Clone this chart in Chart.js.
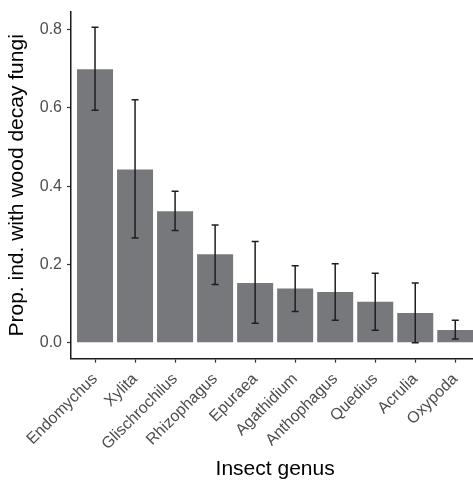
<!DOCTYPE html>
<html>
<head>
<meta charset="utf-8">
<script src="https://cdn.jsdelivr.net/npm/chart.js@4"></script>
<style>
html,body{margin:0;padding:0;overflow:hidden;background:#fff;}
#wrap{width:482px;height:482px;}
</style>
</head>
<body>
<div id="wrap"><canvas id="c" width="482" height="482"></canvas></div>
<script>
const genera = ["Endomychus","Xylita","Glischrochilus","Rhizophagus","Epuraea","Agathidium","Anthophagus","Quedius","Acrulia","Oxypoda"];
const proportion = [0.699,0.443,0.336,0.226,0.153,0.139,0.130,0.105,0.076,0.033];
const ciLower = [0.594,0.268,0.287,0.149,0.050,0.080,0.058,0.032,0.000,0.010];
const ciUpper = [0.806,0.621,0.387,0.301,0.259,0.197,0.202,0.178,0.153,0.058];
const yTicks = [0,0.2,0.4,0.6,0.8];

const FONT = "'Liberation Sans', Arial, Helvetica, sans-serif";

const errorBars = {
  id: 'errorBars',
  afterDatasetsDraw(chart) {
    const ctx = chart.ctx;
    const xs = chart.scales.x, ys = chart.scales.y;
    ctx.save();
    ctx.strokeStyle = '#1f1f1f';
    ctx.lineWidth = 1.5;
    const cap = 3.5;
    for (let i = 0; i < genera.length; i++) {
      const x = xs.getPixelForValue(i);
      const y1 = ys.getPixelForValue(ciLower[i]);
      const y2 = ys.getPixelForValue(ciUpper[i]);
      ctx.beginPath();
      ctx.moveTo(x, y1); ctx.lineTo(x, y2);
      ctx.moveTo(x - cap, y1); ctx.lineTo(x + cap, y1);
      ctx.moveTo(x - cap, y2); ctx.lineTo(x + cap, y2);
      ctx.stroke();
    }
    ctx.restore();
  }
};

new Chart(document.getElementById('c'), {
  type: 'bar',
  data: {
    datasets: [{
      data: genera.map((g, i) => ({x: i, y: proportion[i]})),
      backgroundColor: '#77787b',
      borderWidth: 0,
      barPercentage: 0.9,
      categoryPercentage: 1.0
    }]
  },
  options: {
    responsive: false,
    animation: false,
    devicePixelRatio: 1,
    layout: {padding: {left: 0, right: 2.7, top: 12, bottom: 0}},
    plugins: {legend: {display: false}, tooltip: {enabled: false}},
    scales: {
      x: {
        type: 'linear',
        offset: false,
        min: -0.6,
        max: 9.6,
        afterBuildTicks(scale) { scale.ticks = genera.map((g, i) => ({value: i})); },
        afterFit(scale) { scale.height = 482 - 358.7; scale.paddingLeft = 0; scale.paddingRight = 0; },
        grid: {offset: false, drawOnChartArea: false, drawTicks: true, tickLength: 4, tickColor: '#333', tickWidth: 1.2},
        border: {display: true, color: '#1a1a1a', width: 1.5},
        ticks: {
          autoSkip: false,
          minRotation: 45,
          maxRotation: 45,
          padding: 7,
          color: '#4d4d4d',
          font: {family: FONT, size: 16},
          callback: (v) => genera[v]
        },
        title: {display: true, text: 'Insect genus', color: '#000', font: {family: FONT, size: 21}, padding: {top: 0, bottom: 0}}
      },
      y: {
        min: -0.0405,
        max: 0.845,
        afterBuildTicks(scale) { scale.ticks = yTicks.map(v => ({value: v})); },
        afterFit(scale) { scale.width = 71; scale.paddingTop = 0; scale.paddingBottom = 0; },
        grid: {drawOnChartArea: false, drawTicks: true, tickLength: 4, tickColor: '#333', tickWidth: 1.2},
        border: {display: true, color: '#1a1a1a', width: 1.5},
        ticks: {
          padding: 5,
          color: '#4d4d4d',
          font: {family: FONT, size: 16},
          callback: (v) => v.toFixed(1)
        },
        title: {display: true, text: 'Prop. ind. with wood decay fungi', color: '#000', font: {family: FONT, size: 21}, padding: {top: 5, bottom: 0}}
      }
    }
  },
  plugins: [errorBars]
});
</script>
</body>
</html>
